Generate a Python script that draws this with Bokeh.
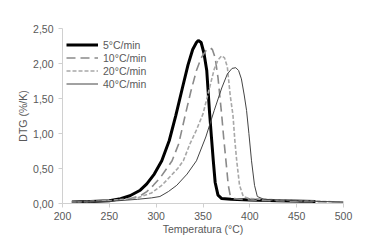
from bokeh.plotting import figure
from bokeh.models import FixedTicker, CustomJSTickFormatter, Range1d, Legend, LegendItem
from bokeh.embed import file_html
from bokeh.resources import INLINE

# Data
t_5 = [210, 230, 250, 262, 272, 283, 290, 298, 306, 314, 321, 328, 334, 339, 343, 345, 348, 351, 354, 357, 359, 361, 363, 366, 370, 380, 400, 430, 470]
v_5 = [0.02, 0.03, 0.04, 0.07, 0.11, 0.19, 0.28, 0.42, 0.61, 0.90, 1.26, 1.65, 1.98, 2.20, 2.30, 2.33, 2.30, 2.15, 1.90, 1.30, 0.95, 0.61, 0.30, 0.12, 0.07, 0.06, 0.05, 0.04, 0.03]

t_10 = [210, 250, 270, 283, 290, 297, 305, 317, 324, 331, 337, 343, 348, 353, 356, 358, 360, 363, 366, 370, 372, 374.5, 377, 379, 383, 400, 450, 500]
v_10 = [0.02, 0.04, 0.06, 0.11, 0.17, 0.26, 0.38, 0.61, 0.85, 1.26, 1.60, 1.90, 2.08, 2.18, 2.21, 2.22, 2.20, 2.08, 1.80, 1.26, 0.95, 0.61, 0.26, 0.12, 0.07, 0.05, 0.03, 0.02]

t_20 = [210, 250, 280, 295, 306, 316, 323, 329, 336, 343, 350, 356, 362, 366, 370, 373, 376, 379, 382, 384, 386, 389, 393, 400, 450, 500]
v_20 = [0.02, 0.04, 0.08, 0.15, 0.26, 0.40, 0.50, 0.61, 0.85, 1.05, 1.28, 1.60, 1.92, 2.05, 2.11, 2.08, 1.95, 1.55, 1.26, 0.90, 0.61, 0.26, 0.10, 0.07, 0.04, 0.02]

t_40 = [210, 250, 280, 295, 304, 313, 322, 333, 343, 353, 362, 370, 376, 381, 385, 388, 391, 394, 396.5, 399, 401.8, 405, 408, 415, 450, 500]
v_40 = [0.02, 0.03, 0.06, 0.08, 0.10, 0.17, 0.26, 0.42, 0.61, 0.95, 1.33, 1.65, 1.85, 1.93, 1.94, 1.90, 1.78, 1.55, 1.33, 1.00, 0.61, 0.26, 0.10, 0.06, 0.04, 0.02]

labels = ["5°C/min", "10°C/min", "20°C/min", "40°C/min"]
x_ticks = [200, 250, 300, 350, 400, 450, 500]
y_ticks = [0, 0.5, 1.0, 1.5, 2.0, 2.5]

FONT = "Liberation Sans"
TXT = "#595959"
AX = "#d0d0d0"

p = figure(width=391, height=242, output_backend="svg", toolbar_location=None,
           x_range=Range1d(200, 500), y_range=Range1d(0, 2.5),
           min_border_left=62, min_border_right=48, min_border_top=28, min_border_bottom=39)
p.outline_line_color = None
p.xgrid.grid_line_color = None
p.ygrid.grid_line_color = None
p.background_fill_color = "white"

r5 = p.line(t_5, v_5, line_color="black", line_width=3)
r10 = p.line(t_10, v_10, line_color="#8a8a8a", line_width=1.6, line_dash="9 5")
r20 = p.line(t_20, v_20, line_color="#a8a8a8", line_width=1.6, line_dash="4 2")
r40 = p.line(t_40, v_40, line_color="#444444", line_width=1)

for ax in (p.xaxis[0], p.yaxis[0]):
    ax.axis_line_color = AX
    ax.major_tick_line_color = AX
    ax.minor_tick_line_color = None
    ax.major_tick_out = 4
    ax.major_tick_in = 0
    ax.major_label_text_font = FONT
    ax.major_label_text_font_size = "10.5px"
    ax.major_label_text_color = TXT
    ax.axis_label_text_font = FONT
    ax.axis_label_text_font_size = "10.5px"
    ax.axis_label_text_color = TXT
    ax.axis_label_text_font_style = "normal"

p.xaxis.ticker = FixedTicker(ticks=x_ticks)
p.yaxis.ticker = FixedTicker(ticks=y_ticks)
p.yaxis.formatter = CustomJSTickFormatter(code="return tick.toFixed(2).replace('.', ',');")
p.xaxis.axis_label = "Temperatura (°C)"
p.yaxis.axis_label = "DTG (%/K)"
p.xaxis.major_label_standoff = 4
p.yaxis.major_label_standoff = 5
p.xaxis.axis_label_standoff = 0
p.yaxis.axis_label_standoff = 1

legend = Legend(items=[LegendItem(label=l, renderers=[r]) for l, r in zip(labels, [r5, r10, r20, r40])],
                location=(4, 113), margin=0, padding=4, spacing=0,
                glyph_width=32, glyph_height=13, label_height=13, label_standoff=5,
                label_text_font=FONT, label_text_font_size="10.5px", label_text_color=TXT,
                border_line_color=None, background_fill_alpha=0)
p.add_layout(legend, "center")

open("out.html", "w").write(file_html(p, INLINE))
